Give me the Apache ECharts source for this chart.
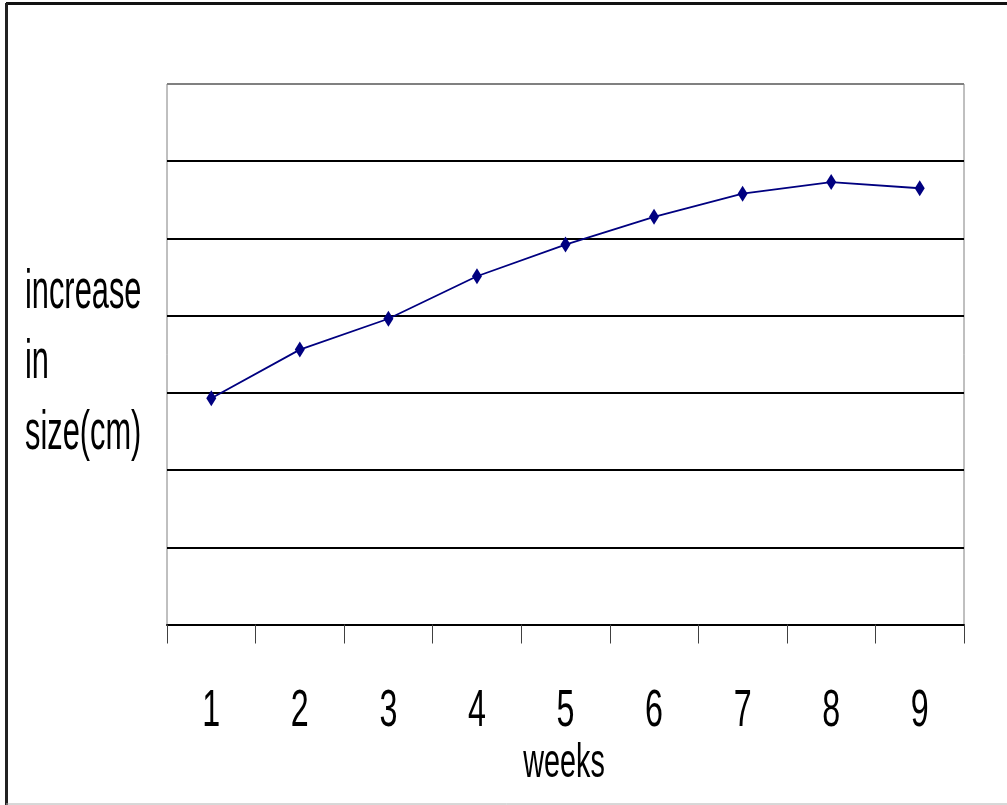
<!DOCTYPE html>
<html>
<head>
<meta charset="utf-8">
<title>increase in size by week</title>
<script src="https://cdn.jsdelivr.net/npm/echarts@6/dist/echarts.min.js"></script>
<style>
  html, body { margin: 0; padding: 0; background: #fff; }
  #chart { width: 1007px; height: 805px; }
</style>
</head>
<body>
<div id="chart"></div>
<script>
// weekly measurements
const weeks = ['1', '2', '3', '4', '5', '6', '7', '8', '9'];
const sizeIncrease = [2.93, 3.56, 3.96, 4.51, 4.92, 5.28, 5.58, 5.73, 5.65];

const xTitle = 'weeks';
const yTitleLines = ['increase', 'in', 'size(cm)'];

const FONT = "'Liberation Sans', Arial, sans-serif";
// tall, condensed lettering: regular face squeezed horizontally
const SQUEEZE_LABEL = 0.62;
const SQUEEZE_TITLE = 0.55;

const chart = echarts.init(document.getElementById('chart'), null, { renderer: 'canvas' });

// y-axis title, one text per line
const yTitleY = [293, 363, 434];
const yTitleGraphics = yTitleLines.map((line, i) => ({
  type: 'text',
  x: 25,
  y: yTitleY[i],
  scaleX: SQUEEZE_TITLE,
  style: {
    text: line,
    font: '56px ' + FONT,
    fill: '#000',
    textAlign: 'left',
    textVerticalAlign: 'middle'
  }
}));

chart.setOption({
  backgroundColor: '#ffffff',
  animation: false,
  grid: {
    left: 167, right: 43, top: 84, bottom: 180.5,
    outerBoundsMode: 'none',
    containLabel: false,
    show: true, borderColor: '#808080', borderWidth: 1, backgroundColor: 'transparent'
  },
  xAxis: {
    type: 'category',
    data: weeks,
    boundaryGap: true,
    axisLine: { show: true, lineStyle: { color: '#000', width: 2 } },
    axisTick: { show: true, alignWithLabel: false, length: 19, lineStyle: { color: '#404040', width: 1 } },
    // tick labels are drawn by the custom series below (condensed lettering)
    axisLabel: { show: false }
  },
  yAxis: {
    type: 'value',
    min: 0, max: 7, interval: 1,
    axisLine: { show: false },
    axisTick: { show: false },
    axisLabel: { show: false },
    splitLine: {
      show: true,
      lineStyle: { color: ['#000', '#000', '#000', '#000', '#000', '#000', '#000', '#808080'], width: 2 }
    }
  },
  graphic: [
    { type: 'line', shape: { x1: 6, y1: 3.5, x2: 1007, y2: 3.5 }, style: { stroke: '#111', lineWidth: 3 } },
    { type: 'line', shape: { x1: 6.5, y1: 3, x2: 6.5, y2: 805 }, style: { stroke: '#222', lineWidth: 3 } },
    { type: 'line', shape: { x1: 6, y1: 804, x2: 1007, y2: 804 }, style: { stroke: '#b0b0b0', lineWidth: 1 } },
    {
      type: 'text', x: 564, y: 764, scaleX: 0.6,
      style: {
        text: xTitle,
        font: '48px ' + FONT,
        fill: '#000',
        textAlign: 'center',
        textVerticalAlign: 'middle'
      }
    }
  ].concat(yTitleGraphics),
  series: [
    {
      type: 'line',
      data: sizeIncrease,
      symbol: 'diamond',
      symbolSize: [10, 16],
      showSymbol: true,
      lineStyle: { color: '#000080', width: 1.8 },
      itemStyle: { color: '#000080' },
      z: 5
    },
    {
      // category labels under the x axis, placed through the axis scale
      type: 'custom',
      data: weeks.map((w, i) => [i, 0]),
      clip: false,
      silent: true,
      renderItem: function (params, api) {
        const p = api.coord([api.value(0), 0]);
        return {
          type: 'text',
          x: p[0],
          y: p[1] + 87,
          scaleX: SQUEEZE_LABEL,
          style: {
            text: weeks[params.dataIndex],
            font: '52px ' + FONT,
            fill: '#000',
            textAlign: 'center',
            textVerticalAlign: 'middle'
          }
        };
      }
    }
  ]
});
</script>
</body>
</html>
